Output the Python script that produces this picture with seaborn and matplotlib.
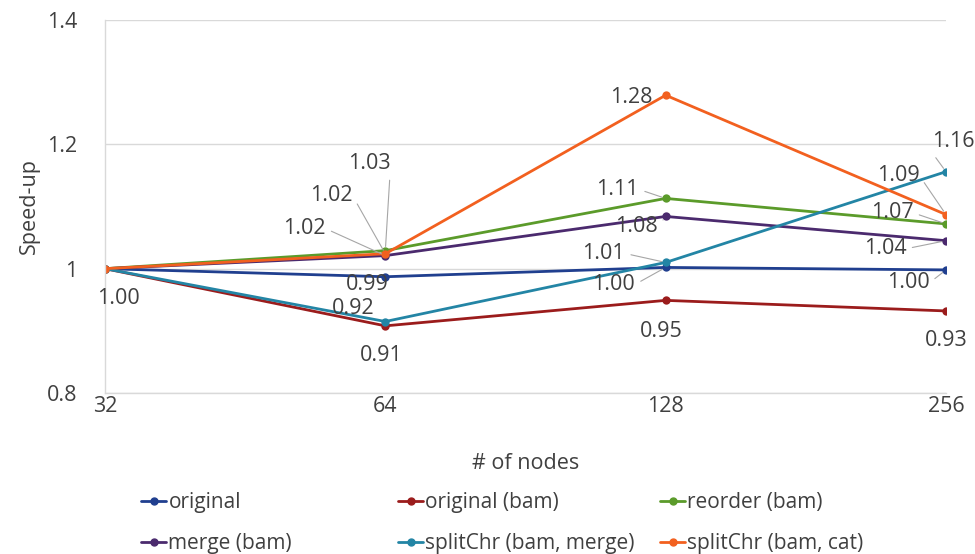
import pandas as pd
import matplotlib.pyplot as plt
import seaborn as sns
from matplotlib.lines import Line2D

sns.set_theme(style="white")
plt.rcParams['font.family'] = ['Open Sans', 'DejaVu Sans']

# data
nodes = ["32", "64", "128", "256"]
series = ["original", "original (bam)", "reorder (bam)", "merge (bam)",
          "splitChr (bam, merge)", "splitChr (bam, cat)"]
original = [1.00, 0.987, 1.002, 0.998]
original_bam = [1.00, 0.908, 0.949, 0.932]
reorder_bam = [1.00, 1.029, 1.113, 1.072]
merge_bam = [1.00, 1.021, 1.084, 1.045]
split_merge = [1.00, 0.915, 1.010, 1.156]
split_cat = [1.00, 1.024, 1.279, 1.087]

colors = ["#203f8f", "#9b1c1c", "#5b9b2a", "#4b2a6e", "#2385a5", "#f2601f"]

values = [original, original_bam, reorder_bam, merge_bam, split_merge, split_cat]
df = pd.DataFrame([
    {"nodes": n, "series": s, "speedup": v}
    for s, vals in zip(series, values)
    for n, v in zip(nodes, vals)
])

# label placement: (series index, node index) -> (dx px, dy px, leader?)
label_pos = {
    (0, 0): (13, -30, False),
    (2, 1): (-16, 87, True), (5, 1): (-54, 58, True), (3, 1): (-81, 27, True),
    (0, 1): (-18, -8, False), (4, 1): (-32, 13, False), (1, 1): (-4, -30, False),
    (5, 2): (-34, -2, False), (2, 2): (-48, 9, True), (3, 2): (-29, -10, True),
    (4, 2): (-62, 9, True), (0, 2): (-52, -17, True), (1, 2): (-4, -31, False),
    (4, 3): (7, 30, True), (5, 3): (-48, 39, True), (2, 3): (-54, 11, True),
    (3, 3): (-61, -8, True), (0, 3): (-38, -13, True), (1, 3): (0, -30, False),
}

fs = 15.5
txt = "#404040"

fig = plt.figure(figsize=(9.75, 5.54), dpi=100)
ax = fig.add_axes([105 / 975, 1 - 393 / 554, 841 / 975, 373 / 554])

sns.lineplot(data=df, x="nodes", y="speedup", hue="series", hue_order=series,
             palette=colors, marker="o", markersize=6, markeredgewidth=0,
             linewidth=2, sort=False, legend=False, ax=ax)

ax.set_ylim(0.8, 1.4)
ax.set_xlim(0, 3)
ax.set_yticks([0.8, 1.0, 1.2, 1.4])
ax.set_yticklabels(["0.8", "1", "1.2", "1.4"])
ax.yaxis.grid(True, color="#d9d9d9", linewidth=1)
ax.set_axisbelow(True)
for side in ["top", "right"]:
    ax.spines[side].set_visible(False)
for side in ["left", "bottom"]:
    ax.spines[side].set_color("#d9d9d9")
    ax.spines[side].set_linewidth(1)
ax.tick_params(axis="both", length=0, labelsize=fs, labelcolor=txt)
ax.tick_params(axis="y", pad=20)
ax.tick_params(axis="x", pad=2)
ax.set_xlabel("# of nodes", fontsize=fs, color=txt, labelpad=26)
ax.set_ylabel("Speed-up", fontsize=fs, color=txt, labelpad=5)

for (si, ni), (dx, dy, leader) in label_pos.items():
    v = values[si][ni]
    if leader:
        rel = (0, 0) if dx > 0 else (1, 0.5)
        ax.annotate(f"{v:.2f}", xy=(ni, v), xytext=(dx, dy), textcoords="offset pixels",
                    ha="center", va="center", fontsize=fs, color=txt,
                    arrowprops=dict(arrowstyle="-", color="#a6a6a6", lw=0.8,
                                    relpos=rel, shrinkA=2, shrinkB=3))
    else:
        ax.annotate(f"{v:.2f}", xy=(ni, v), xytext=(dx, dy), textcoords="offset pixels",
                    ha="center", va="center", fontsize=fs, color=txt)

# legend laid out in three fixed-width columns like Excel
handles = [Line2D([], [], color=c, marker="o", markersize=5, linewidth=2) for c in colors]
col_x = [133 / 975, 390 / 975, 652 / 975]
for col in range(3):
    idx = [col, col + 3]
    leg = fig.legend([handles[i] for i in idx], [series[i] for i in idx],
                     loc="upper left", bbox_to_anchor=(col_x[col], 1 - 484 / 554),
                     frameon=False, fontsize=15, handlelength=1.2, handletextpad=0.1,
                     labelspacing=0.95, borderaxespad=0)
    for t in leg.get_texts():
        t.set_color(txt)

fig.savefig("out.png", dpi=100)
